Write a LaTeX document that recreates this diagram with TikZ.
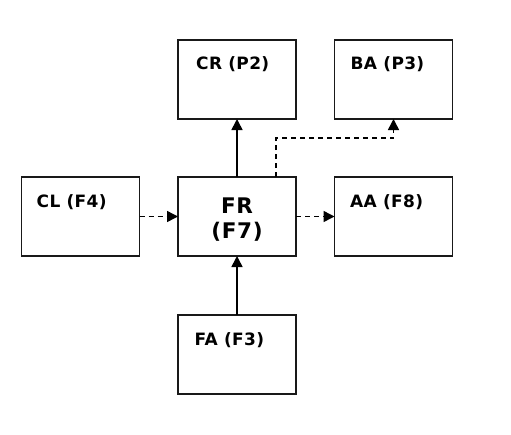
\documentclass[tikz,border=0pt]{standalone}
\usepackage{fontspec}
\setsansfont{DejaVu Sans}
\usetikzlibrary{positioning, arrows.meta}
\tikzset{
	block/.append style={
		draw=black!90,
		line width=1.3pt,
		minimum width=118pt,
		minimum height=79pt,
		inner sep=0pt,
		outer sep=0pt,
	},
	tag/.append style={
		anchor=base west,
		inner sep=0pt,
		font={\sffamily\bfseries\fontsize{17pt}{18pt}\selectfont\addfontfeatures{LetterSpace=2}}
	},
	big/.append style={
		align=center,
		font={\sffamily\bfseries\fontsize{21.5pt}{25.5pt}\selectfont\addfontfeatures{LetterSpace=3}}
	},
	link/.append style={
		line width=1.6pt,
		-{Triangle[length=11pt,width=11pt]}
	},
	dlink/.append style={
		link,
		line width=1.5pt,
		dash pattern=on 5pt off 4pt
	}
}

\begin{document}
\begin{tikzpicture}[x=1pt, y=-1pt, node distance=58pt and 38.5pt]

\useasboundingbox (0,0) rectangle (511,434);

\node(fr)[block] at (237,216.5){};
\node(frt)[big] at ([yshift=-3pt]fr.center){FR\\(F7)};

\node(cr)[block, above=of fr]{};
\node(ba)[block, right=of cr]{};
\node(cl)[block, left=of fr]{};
\node(aa)[block, right=of fr]{};
\node(fa)[block, below=59pt of fr]{};

\node(crt)[tag] at ([shift={(18pt,-29pt)}]cr.north west){CR (P2)};
\node(bat)[tag] at ([shift={(16pt,-29pt)}]ba.north west){BA (P3)};
\node(clt)[tag] at ([shift={(15pt,-30pt)}]cl.north west){CL (F4)};
\node(aat)[tag] at ([shift={(15.5pt,-30pt)}]aa.north west){AA (F8)};
\node(fat)[tag] at ([shift={(16.5pt,-30pt)}]fa.north west){FA (F3)};

\coordinate(turn) at ([yshift=-19pt]ba.south);

\draw[link] (fa) -- (fr);
\draw[link] (fr) -- (cr);
\draw[dlink] (cl) -- (fr);
\draw[dlink] (fr) -- (aa);
\draw[dlink] ([xshift=39pt]fr.north) |- (turn) -- (ba.south);

\end{tikzpicture}
\end{document}
